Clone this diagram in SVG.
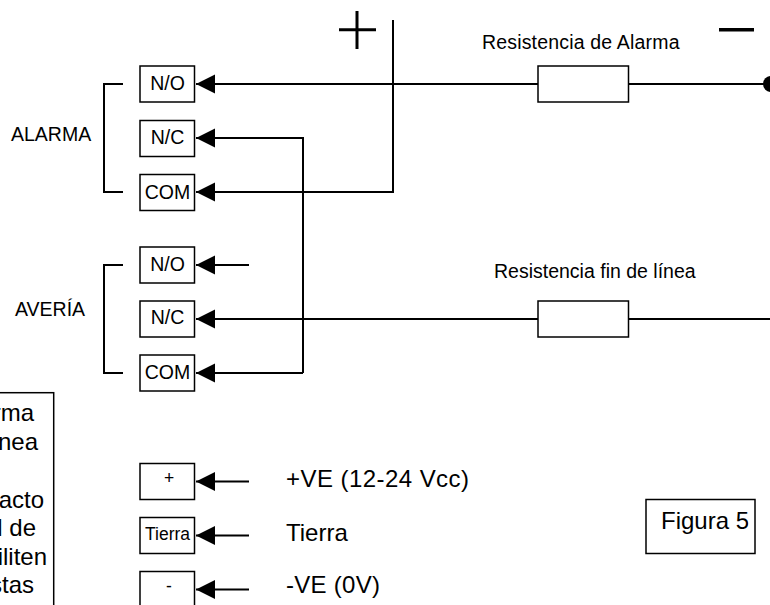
<svg xmlns="http://www.w3.org/2000/svg" width="770" height="605" viewBox="0 0 770 605">
<style>
.t{font-family:"Liberation Sans",Arial,sans-serif;fill:#000}
.s{font-size:19.5px}
.m{font-size:17.5px}
.l{font-size:24px}
.c{text-anchor:middle}
.e{text-anchor:end}
.b{fill:#fff;stroke:#000;stroke-width:1.5}
.h{fill:none;stroke:#000;stroke-width:2}
</style>
<defs>
<marker id="a" markerUnits="userSpaceOnUse" markerWidth="20" markerHeight="20" refX="19.500" refY="10" orient="auto" viewBox="0 0 20 20"><path d="M0.500 0.500L19.500 10L0.500 19.500Z" fill="#000"/></marker>
<clipPath id="fc"><rect x="646" y="499" width="102.500" height="55"/></clipPath>
</defs>
<rect width="770" height="605" fill="#fff"/>
<g id="connectors">
<path class="h" d="M123 84H104V192H123"/>
<path class="h" d="M123 265H104V373H123"/>
<line class="h" x1="765" y1="84" x2="196" y2="84" marker-end="url(#a)"/>
<path class="h" d="M303 373V138H196" marker-end="url(#a)"/>
<path class="h" d="M393 20V192H196" marker-end="url(#a)"/>
<line class="h" x1="249" y1="265" x2="196" y2="265" marker-end="url(#a)"/>
<line class="h" x1="770" y1="319" x2="196" y2="319" marker-end="url(#a)"/>
<line class="h" x1="303" y1="373" x2="196" y2="373" marker-end="url(#a)"/>
<line class="h" x1="249" y1="481.500" x2="196" y2="481.500" marker-end="url(#a)"/>
<line class="h" x1="249" y1="535.500" x2="196" y2="535.500" marker-end="url(#a)"/>
<line class="h" x1="249" y1="589.500" x2="196" y2="589.500" marker-end="url(#a)"/>
</g>
<g id="plus"><path d="M339 29.700H376M357 11V49" fill="none" stroke="#000" stroke-width="3"/></g>
<g id="minus"><line x1="719" y1="29.700" x2="754" y2="29.700" stroke="#000" stroke-width="3.500"/></g>
<g id="terminal-dot"><circle cx="771" cy="84" r="8" fill="#000"/></g>
<g id="alarma-no"><rect class="b" x="140" y="66" width="54.500" height="36"/><text class="t s c" x="167.500" y="90">N/O</text></g>
<g id="alarma-nc"><rect class="b" x="140" y="120.500" width="54.500" height="36"/><text class="t s c" x="167.500" y="144">N/C</text></g>
<g id="alarma-com"><rect class="b" x="140" y="174.500" width="54.500" height="36"/><text class="t s c" x="167.500" y="198.500">COM</text></g>
<g id="averia-no"><rect class="b" x="140" y="247" width="54.500" height="36"/><text class="t s c" x="167.500" y="270.500">N/O</text></g>
<g id="averia-nc"><rect class="b" x="140" y="301" width="54.500" height="36"/><text class="t s c" x="167.500" y="324">N/C</text></g>
<g id="averia-com"><rect class="b" x="140" y="355" width="54.500" height="36"/><text class="t s c" x="167.500" y="379">COM</text></g>
<g id="pos"><rect class="b" x="140" y="463.500" width="54.500" height="36"/><text class="t m c" x="169" y="484">+</text></g>
<g id="tierra"><rect class="b" x="140" y="517.500" width="54.500" height="36"/><text class="t m c" x="167.500" y="539.500">Tierra</text></g>
<g id="neg"><rect class="b" x="140" y="571.500" width="54.500" height="36"/><text class="t m c" x="169" y="592">-</text></g>
<g id="res-alarma"><rect class="b" x="538" y="66" width="90.500" height="36"/></g>
<g id="res-fin"><rect class="b" x="538" y="301" width="90.500" height="36"/></g>
<g id="figura"><rect class="b" x="646" y="499.500" width="109" height="54"/><text class="t l" x="661" y="529" clip-path="url(#fc)">Figura 5</text></g>
<g id="legend"><rect class="b" x="-10" y="392.700" width="63.700" height="230"/>
<text class="t l e" x="34" y="421">rma</text>
<text class="t l e" x="38" y="450">nea</text>
<text class="t l e" x="44" y="507.500">acto</text>
<text class="t l e" x="36" y="536">l de</text>
<text class="t l e" x="47" y="564.500">iliten</text>
<text class="t l e" x="34" y="593">stas</text>
</g>
<g id="labels">
<text class="t s" x="11" y="140.500">ALARMA</text>
<text class="t s" x="15" y="316">AVERÍA</text>
<text class="t s" x="482" y="48.500" textLength="197.500">Resistencia de Alarma</text>
<text class="t s" x="494" y="278">Resistencia fin de línea</text>
<text class="t l" x="286" y="487" textLength="183">+VE (12-24 Vcc)</text>
<text class="t l" x="286" y="540.500">Tierra</text>
<text class="t l" x="286" y="592.500" textLength="94">-VE (0V)</text>
</g>
</svg>
